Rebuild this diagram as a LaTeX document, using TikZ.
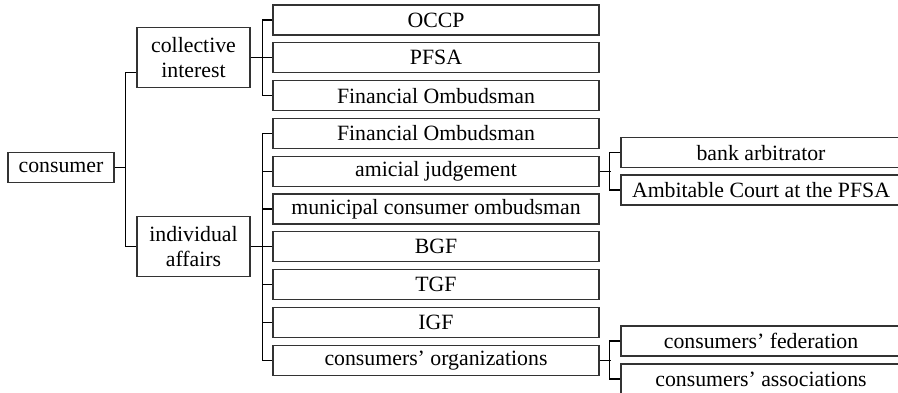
\documentclass[tikz,border=0pt]{standalone}
\usepackage{fontspec}
\setmainfont{Liberation Serif}
\begin{document}
\begin{tikzpicture}[x=1pt,y=-1pt,
  box/.style={draw=black!80, line width=1.1pt, minimum height=30pt, inner sep=0pt, font=\fontsize{21.8}{25}\selectfont},
  lvl/.style={box, minimum width=326pt},
  leaf/.style={box, minimum width=280pt},
  tree/.style={draw=black, line width=1.1pt}]
\useasboundingbox (0,0) rectangle (898,393);
\node[box, minimum width=106pt] (cons) at (61,167.5) {consumer};
\node[box, minimum width=113pt, minimum height=60pt, align=center] (coll) at (193.5,57.8) {collective\\interest};
\node[box, minimum width=113pt, minimum height=60pt, align=center] (indi) at (193.5,246.8) {individual\\affairs};
\node[lvl] (occp) at (436,20) {OCCP};
\node[lvl] (pfsa) at (436,57.8) {PFSA};
\node[lvl] (fin1) at (436,95.6) {Financial Ombudsman};
\node[lvl] (fin2) at (436,133.4) {Financial Ombudsman};
\node[lvl] (amic) at (436,171.2) {amicial judgement};
\node[lvl] (muni) at (436,209) {municipal consumer ombudsman};
\node[lvl] (bgf) at (436,246.8) {BGF};
\node[lvl] (tgf) at (436,284.6) {TGF};
\node[lvl] (igf) at (436,322.4) {IGF};
\node[lvl] (corg) at (436,360.2) {consumers’ organizations};
\node[leaf] (bank) at (761,152.7) {bank arbitrator};
\node[leaf] (court) at (761,190) {Ambitable Court at the PFSA};
\node[leaf] (cfed) at (761,341) {consumers’ federation};
\node[leaf] (cass) at (761,379) {consumers’ associations};
\draw[tree] (cons.east) -- ++(11,0) coordinate (b0);
\draw[tree] ([yshift=-15pt]coll.west) -| (b0) |- (indi.west);
\draw[tree] (coll.east) -- (pfsa.west);
\draw[tree] (occp.west) -- ++(-10,0) |- (fin1.west);
\draw[tree] (indi.east) -- (bgf.west);
\draw[tree] (fin2.west) -- ++(-10,0) |- (corg.west);
\draw[tree] (amic.west) -- ++(-10,0);
\draw[tree] (muni.west) -- ++(-10,0);
\draw[tree] (tgf.west) -- ++(-10,0);
\draw[tree] (igf.west) -- ++(-10,0);
\draw[tree] (amic.east) -- ++(11,0);
\draw[tree] (bank.west) -- ++(-11,0) |- (court.west);
\draw[tree] (corg.east) -- ++(11,0);
\draw[tree] (cfed.west) -- ++(-11,0) |- (cass.west);
\end{tikzpicture}
\end{document}
